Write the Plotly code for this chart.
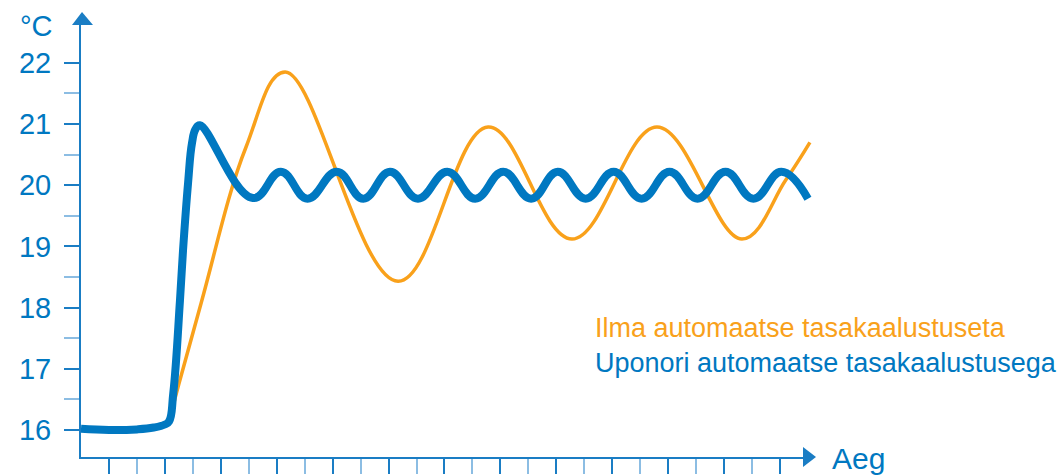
import plotly.graph_objects as go

# Room temperature over time, with and without automatic balancing
blue_x = [0, 1, 2, 2.6, 3.0, 3.15, 3.3, 3.54, 3.65, 3.83, 3.97, 4.1, 4.25,
          6.15, 7.15, 8.1, 9.15, 10.1, 11.05, 12.05, 13.1, 14.1, 15.1, 16.1, 17.05, 18.05,
          19.05, 20.05, 21.05, 22.05, 23.05, 24.05, 25.05, 26.0]
blue_y = [16.02, 16.0, 16.01, 16.04, 16.09, 16.14, 16.6, 18.12, 18.94, 20.04, 20.69, 20.92, 20.98,
          19.79, 20.22, 19.78, 20.22, 19.78, 20.22, 19.78, 20.22, 19.78, 20.22, 19.78, 20.22, 19.78,
          20.22, 19.78, 20.22, 19.78, 20.22, 19.78, 20.22, 19.78]

orange_x = [3.15, 3.5, 4.3, 5.9, 7.3, 11.34, 14.56, 17.56, 20.6, 23.64, 25.2, 26.07]
orange_y = [16.14, 16.75, 18.08, 20.62, 21.85, 18.43, 20.95, 19.12, 20.95, 19.12, 20.08, 20.7]

y_ticks = [16, 17, 18, 19, 20, 21, 22]
y_half_ticks = [16.5, 17.5, 18.5, 19.5, 20.5, 21.5]
x_odd_ticks = [1, 3, 5, 7, 9, 11, 13, 15, 17, 19, 21, 23, 25]
x_even_ticks = [2, 4, 6, 8, 10, 12, 14, 16, 18, 20, 22, 24]
orange_label = "Ilma automaatse tasakaalustuseta"
blue_label = "Uponori automaatse tasakaalustusega"
y_unit = "°C"
x_title = "Aeg"

BLUE = "#0078C1"
AXIS = "#1A7DC4"
LIGHT = "#8CBDE3"
ORANGE = "#F9A11B"
FONT = "Liberation Sans, Arial, sans-serif"

W, H = 1061, 475
L, R, T, B = 81, 812, 25, 457   # plot area in page pixels


def px(x, y):
    """Page pixel -> paper coordinates."""
    return (x - L) / (R - L), (B - y) / (B - T)


fig = go.Figure()
fig.add_trace(go.Scatter(x=orange_x, y=orange_y, mode="lines",
                         line=dict(color=ORANGE, width=3.5, shape="spline", smoothing=1.1),
                         hoverinfo="skip"))
fig.add_trace(go.Scatter(x=blue_x, y=blue_y, mode="lines",
                         line=dict(color=BLUE, width=8, shape="spline", smoothing=1.25),
                         hoverinfo="skip"))

shapes = []
# arrow heads on the axes
ax0, ay0 = px(72, 25)
ax1, ay1 = px(93, 25)
ax2, ay2 = px(82, 12)
shapes.append(dict(type="path", xref="paper", yref="paper",
                   path=f"M {ax0} {ay0} L {ax1} {ay1} L {ax2} {ay2} Z",
                   fillcolor=AXIS, line=dict(width=0)))
bx0, by0 = px(803, 447)
bx1, by1 = px(803, 467)
bx2, by2 = px(816, 457)
shapes.append(dict(type="path", xref="paper", yref="paper",
                   path=f"M {bx0} {by0} L {bx1} {by1} L {bx2} {by2} Z",
                   fillcolor=AXIS, line=dict(width=0)))

annotations = []
ux, uy = px(55, 26)
annotations.append(dict(x=ux, y=uy, xref="paper", yref="paper", text=y_unit, showarrow=False,
                        xanchor="right", yanchor="middle",
                        font=dict(family=FONT, size=29, color=BLUE)))
gx, gy = px(830, 458)
annotations.append(dict(x=gx, y=gy, xref="paper", yref="paper", text=x_title, showarrow=False,
                        xanchor="left", yanchor="middle",
                        font=dict(family=FONT, size=30, color=BLUE)))
ox, oy = px(593, 328)
annotations.append(dict(x=ox, y=oy, xref="paper", yref="paper", text=orange_label,
                        showarrow=False, xanchor="left", yanchor="middle",
                        font=dict(family=FONT, size=27, color=ORANGE)))
lx, ly = px(593, 363)
annotations.append(dict(x=lx, y=ly, xref="paper", yref="paper", text=blue_label,
                        showarrow=False, xanchor="left", yanchor="middle",
                        font=dict(family=FONT, size=27, color=BLUE)))

x_lo = 0
x_hi = (R - L) / 27.96
y_lo = 16 - (B - 430) / 61.2
y_hi = 16 + (430 - T) / 61.2

fig.update_layout(
    width=W, height=H,
    margin=dict(l=L, r=W - R, t=T, b=H - B, pad=0, autoexpand=False),
    paper_bgcolor="white", plot_bgcolor="white",
    showlegend=False,
    shapes=shapes, annotations=annotations,
    xaxis=dict(range=[x_lo, x_hi], showgrid=False, zeroline=False, automargin=False,
               showline=True, linecolor=AXIS, linewidth=2,
               ticks="outside", tickvals=x_odd_ticks, ticklen=15, tickwidth=2, tickcolor=AXIS,
               minor=dict(ticks="outside", tickvals=x_even_ticks, ticklen=15, tickwidth=2,
                          tickcolor=LIGHT, showgrid=False),
               showticklabels=False, fixedrange=True),
    yaxis=dict(range=[y_lo, y_hi], showgrid=False, zeroline=False, automargin=False,
               showline=True, linecolor=AXIS, linewidth=2,
               ticks="outside", tickvals=y_ticks, ticklen=15, tickwidth=2, tickcolor=AXIS,
               minor=dict(ticks="outside", tickvals=y_half_ticks,
                          ticklen=15, tickwidth=2, tickcolor=LIGHT, showgrid=False),
               ticklabelstandoff=7,
               tickfont=dict(family=FONT, size=29, color=BLUE), fixedrange=True),
)

fig.write_html("out.html", config={"displayModeBar": False})
